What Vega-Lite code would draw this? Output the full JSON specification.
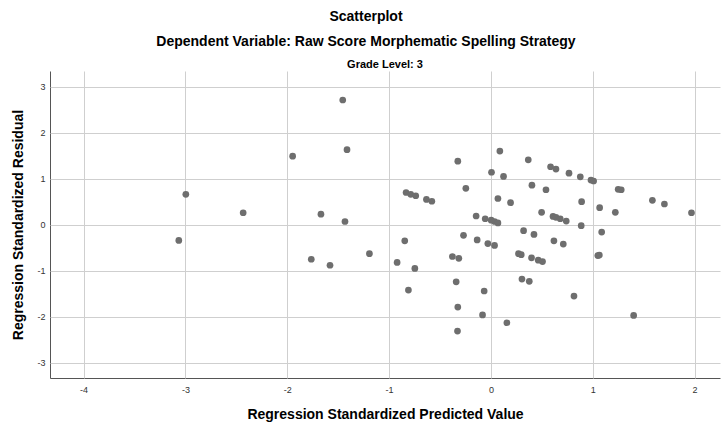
{
  "$schema": "https://vega.github.io/schema/vega-lite/v6.json",
  "background": "white",
  "padding": {"left": 11, "top": 10, "right": 2, "bottom": 4},
  "title": {
    "text": "Scatterplot",
    "subtitle": "Dependent Variable: Raw Score Morphematic Spelling Strategy",
    "font": "Liberation Sans",
    "subtitleFont": "Liberation Sans",
    "fontSize": 14,
    "subtitleFontSize": 14,
    "fontWeight": "bold",
    "subtitleFontWeight": "bold",
    "color": "black",
    "subtitleColor": "black",
    "subtitlePadding": 11,
    "anchor": "middle",
    "offset": 10
  },
  "data": {
    "values": [
      {"grade": "3", "pred": -1.455, "resid": 2.71},
      {"grade": "3", "pred": -1.413, "resid": 1.63},
      {"grade": "3", "pred": -1.947, "resid": 1.49},
      {"grade": "3", "pred": -2.996, "resid": 0.66},
      {"grade": "3", "pred": -2.433, "resid": 0.26},
      {"grade": "3", "pred": -1.669, "resid": 0.23},
      {"grade": "3", "pred": -1.433, "resid": 0.07},
      {"grade": "3", "pred": -3.065, "resid": -0.34},
      {"grade": "3", "pred": -1.764, "resid": -0.75},
      {"grade": "3", "pred": -1.58, "resid": -0.88},
      {"grade": "3", "pred": -1.193, "resid": -0.63},
      {"grade": "3", "pred": -0.325, "resid": 1.38},
      {"grade": "3", "pred": 0.088, "resid": 1.6},
      {"grade": "3", "pred": 0.367, "resid": 1.41},
      {"grade": "3", "pred": 0.586, "resid": 1.26},
      {"grade": "3", "pred": 0.639, "resid": 1.21},
      {"grade": "3", "pred": 0.006, "resid": 1.14},
      {"grade": "3", "pred": 0.124, "resid": 1.05},
      {"grade": "3", "pred": -0.833, "resid": 0.7},
      {"grade": "3", "pred": -0.787, "resid": 0.66},
      {"grade": "3", "pred": -0.738, "resid": 0.63},
      {"grade": "3", "pred": -0.633, "resid": 0.55},
      {"grade": "3", "pred": -0.58, "resid": 0.51},
      {"grade": "3", "pred": -0.246, "resid": 0.79},
      {"grade": "3", "pred": 0.069, "resid": 0.57},
      {"grade": "3", "pred": 0.193, "resid": 0.48},
      {"grade": "3", "pred": 0.403, "resid": 0.86},
      {"grade": "3", "pred": 0.541, "resid": 0.76},
      {"grade": "3", "pred": 0.498, "resid": 0.27},
      {"grade": "3", "pred": -0.145, "resid": 0.19},
      {"grade": "3", "pred": -0.056, "resid": 0.13},
      {"grade": "3", "pred": 0.003, "resid": 0.1},
      {"grade": "3", "pred": 0.036, "resid": 0.07},
      {"grade": "3", "pred": 0.069, "resid": 0.04},
      {"grade": "3", "pred": -0.846, "resid": -0.35},
      {"grade": "3", "pred": -0.269, "resid": -0.23},
      {"grade": "3", "pred": -0.135, "resid": -0.33},
      {"grade": "3", "pred": -0.03, "resid": -0.41},
      {"grade": "3", "pred": 0.036, "resid": -0.45},
      {"grade": "3", "pred": 0.321, "resid": -0.13},
      {"grade": "3", "pred": 0.423, "resid": -0.21},
      {"grade": "3", "pred": 0.767, "resid": 1.12},
      {"grade": "3", "pred": 0.878, "resid": 1.04},
      {"grade": "3", "pred": 0.983, "resid": 0.97},
      {"grade": "3", "pred": 1.009, "resid": 0.95},
      {"grade": "3", "pred": 1.25, "resid": 0.77},
      {"grade": "3", "pred": 1.28, "resid": 0.76},
      {"grade": "3", "pred": 0.891, "resid": 0.5},
      {"grade": "3", "pred": 1.068, "resid": 0.37},
      {"grade": "3", "pred": 1.222, "resid": 0.27},
      {"grade": "3", "pred": 1.586, "resid": 0.53},
      {"grade": "3", "pred": 1.704, "resid": 0.45},
      {"grade": "3", "pred": 1.97, "resid": 0.26},
      {"grade": "3", "pred": 0.61, "resid": 0.18},
      {"grade": "3", "pred": 0.639, "resid": 0.16},
      {"grade": "3", "pred": 0.681, "resid": 0.13},
      {"grade": "3", "pred": 0.74, "resid": 0.08},
      {"grade": "3", "pred": 0.887, "resid": -0.02},
      {"grade": "3", "pred": 1.088, "resid": -0.16},
      {"grade": "3", "pred": 0.619, "resid": -0.35},
      {"grade": "3", "pred": 0.711, "resid": -0.42},
      {"grade": "3", "pred": -0.921, "resid": -0.82},
      {"grade": "3", "pred": -0.747, "resid": -0.95},
      {"grade": "3", "pred": -0.378, "resid": -0.69},
      {"grade": "3", "pred": -0.315, "resid": -0.73},
      {"grade": "3", "pred": 0.271, "resid": -0.63},
      {"grade": "3", "pred": 0.298, "resid": -0.65},
      {"grade": "3", "pred": 0.399, "resid": -0.72},
      {"grade": "3", "pred": 0.465, "resid": -0.77},
      {"grade": "3", "pred": 0.507, "resid": -0.8},
      {"grade": "3", "pred": -0.81, "resid": -1.42},
      {"grade": "3", "pred": -0.341, "resid": -1.24},
      {"grade": "3", "pred": -0.066, "resid": -1.44},
      {"grade": "3", "pred": 0.305, "resid": -1.18},
      {"grade": "3", "pred": 0.377, "resid": -1.23},
      {"grade": "3", "pred": -0.325, "resid": -1.79},
      {"grade": "3", "pred": -0.082, "resid": -1.96},
      {"grade": "3", "pred": 0.157, "resid": -2.13},
      {"grade": "3", "pred": -0.328, "resid": -2.31},
      {"grade": "3", "pred": 0.816, "resid": -1.55},
      {"grade": "3", "pred": 1.402, "resid": -1.97},
      {"grade": "3", "pred": 1.05, "resid": -0.67},
      {"grade": "3", "pred": 1.065, "resid": -0.66}
    ]
  },
  "facet": {
    "column": {
      "field": "grade",
      "type": "nominal",
      "title": null,
      "header": {
        "labelExpr": "'Grade Level: ' + datum.value",
        "labelFont": "Liberation Sans",
        "labelFontSize": 11,
        "labelFontWeight": "bold",
        "labelColor": "black",
        "labelPadding": 1
      }
    }
  },
  "spec": {
    "width": 670,
    "height": 307,
    "mark": {"type": "point", "filled": true, "size": 45, "color": "#6e6e6e", "opacity": 1},
    "encoding": {
      "x": {
        "field": "pred",
        "type": "quantitative",
        "title": "Regression Standardized Predicted Value",
        "scale": {"domain": [-4.33, 2.25], "nice": false, "zero": false},
        "axis": {
          "values": [-4, -3, -2, -1, 0, 1, 2],
          "labelExpr": "datum.value < 0 ? '-' + abs(datum.value) : '' + datum.value",
          "titlePadding": 13,
          "labelPadding": 7
        }
      },
      "y": {
        "field": "resid",
        "type": "quantitative",
        "title": "Regression Standardized Residual",
        "scale": {"domain": [-3.33, 3.34], "nice": false, "zero": false},
        "axis": {
          "values": [-3, -2, -1, 0, 1, 2, 3],
          "labelExpr": "datum.value < 0 ? '-' + abs(datum.value) : '' + datum.value",
          "titlePadding": 11,
          "labelPadding": 5
        }
      }
    }
  },
  "config": {
    "view": {"stroke": null},
    "axis": {
      "labelFont": "Liberation Sans",
      "labelFontSize": 9,
      "labelColor": "#333333",
      "titleFont": "Liberation Sans",
      "titleFontSize": 14,
      "titleFontWeight": "bold",
      "titleColor": "black",
      "domainColor": "#555555",
      "domainWidth": 1,
      "ticks": false,
      "gridColor": "#cfcfcf",
      "gridWidth": 1
    }
  }
}
